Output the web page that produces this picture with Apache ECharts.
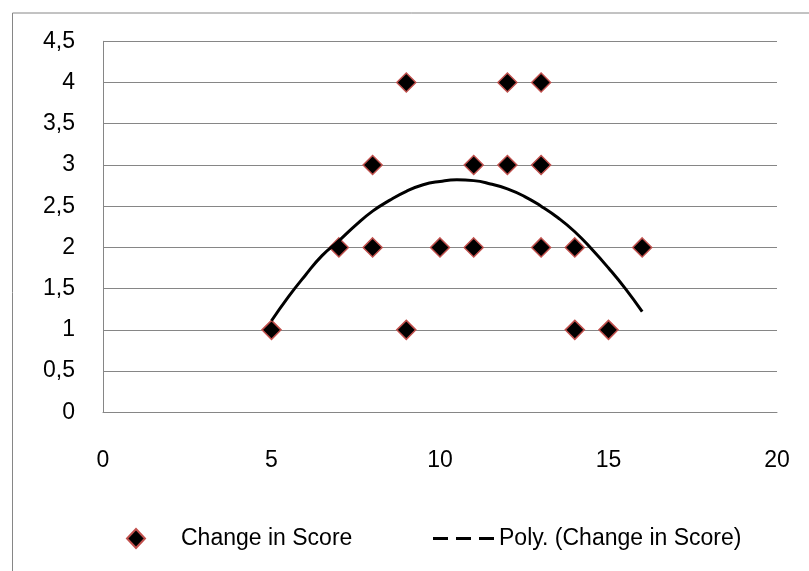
<!DOCTYPE html>
<html><head><meta charset="utf-8">
<script src="https://cdn.jsdelivr.net/npm/echarts@6/dist/echarts.min.js"></script>
<style>html,body{margin:0;padding:0;background:#fff}#c{width:809px;height:571px}</style>
</head><body><div id="c"></div>
<script>
// Scatter data: Change in Score
const scoreX = [5, 7, 8, 8, 9, 9, 10, 11, 11, 12, 12, 13, 13, 13, 14, 14, 15, 16];
const scoreY = [1, 2, 2, 3, 4, 1, 2, 2, 3, 4, 3, 4, 3, 2, 2, 1, 1, 2];
// Polynomial trendline, values
const trendX = [5, 5.5, 6, 6.5, 7, 7.5, 8, 8.5, 9, 9.5, 10, 10.5, 11, 11.5, 12, 12.5, 13, 13.5, 14, 14.5, 15, 15.5, 16];
const trendY = [1.11, 1.40, 1.66, 1.90, 2.08, 2.27, 2.44, 2.57, 2.68, 2.76, 2.80, 2.82, 2.81, 2.77, 2.71, 2.62, 2.50, 2.36, 2.19, 1.98, 1.75, 1.50, 1.22];
const seriesNames = ['Change in Score', 'Poly. (Change in Score)'];

const FONT = '"Liberation Sans", Arial, sans-serif';
const FS = 23;
const chart = echarts.init(document.getElementById('c'));
chart.setOption({
  animation: false,
  backgroundColor: '#fff',
  graphic: [{
    type: 'rect', left: 10, top: 10.5,
    shape: { x: 0, y: 0, width: 900, height: 700 },
    style: { fill: 'none', stroke: '#868686', lineWidth: 1 }, silent: true, z: -1
  }],
  grid: { left: 103, right: 32, top: 41.3, bottom: 158.7, containLabel: false },
  xAxis: {
    type: 'value', min: 0, max: 20, interval: 5,
    axisLine: { show: true, lineStyle: { color: '#868686', width: 1 } },
    axisTick: { show: false },
    splitLine: { show: false },
    axisLabel: { color: '#000', fontFamily: FONT, fontSize: FS, margin: 37 }
  },
  yAxis: {
    type: 'value', min: 0, max: 4.5, interval: 0.5,
    axisLine: { show: true, lineStyle: { color: '#868686', width: 1 } },
    axisTick: { show: false },
    splitLine: { show: true, lineStyle: { color: '#868686', width: 1 } },
    axisLabel: { color: '#000', fontFamily: FONT, fontSize: FS, margin: 28,
      formatter: v => String(v).replace('.', ',') }
  },
  legend: [{
    data: [{ name: seriesNames[0], icon: 'diamond' }],
    left: 121, top: 522, itemWidth: 18, itemHeight: 19,
    textStyle: { fontFamily: FONT, fontSize: FS, color: '#000', padding: [0, 0, 0, 31] }
  }, {
    data: [{ name: seriesNames[1], icon: 'path://M0,0H15V3H0Z M23,0H38V3H23Z M46,0H61V3H46Z' }],
    left: 428, top: 522, itemWidth: 61, itemHeight: 3,
    textStyle: { fontFamily: FONT, fontSize: FS, color: '#000' }
  }],
  series: [{
    name: seriesNames[1], type: 'line', smooth: true, symbol: 'none',
    data: trendX.map((x, i) => [x, trendY[i]]),
    lineStyle: { color: '#000', width: 3, opacity: 1 }, itemStyle: { color: '#000', opacity: 1 }, z: 3
  }, {
    name: seriesNames[0], type: 'scatter', symbol: 'diamond', symbolSize: 19,
    data: scoreX.map((x, i) => [x, scoreY[i]]),
    itemStyle: { color: '#000', opacity: 1, borderColor: '#c0504d', borderWidth: 1.5 }, z: 2
  }]
});
</script></body></html>
